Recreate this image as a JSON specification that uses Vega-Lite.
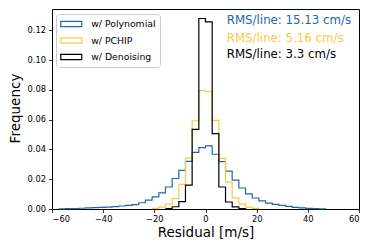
{
  "$schema": "https://vega.github.io/schema/vega-lite/v6.json",
  "width": 307,
  "height": 200,
  "autosize": "none",
  "padding": {"left": 52, "top": 9, "right": 15, "bottom": 40},
  "background": "white",
  "config": {
    "font": "DejaVu Sans",
    "view": {"stroke": "black", "strokeWidth": 1},
    "axis": {
      "domain": false,
      "grid": false,
      "tickColor": "black",
      "tickSize": 3.5,
      "tickWidth": 0.8,
      "labelFont": "DejaVu Sans",
      "labelFontSize": 8.3,
      "labelColor": "black",
      "labelOverlap": false,
      "titleFont": "DejaVu Sans",
      "titleFontSize": 13.5,
      "titleFontWeight": "normal",
      "titleColor": "black"
    },
    "legend": {
      "labelFont": "DejaVu Sans",
      "labelFontSize": 9.3,
      "labelColor": "black"
    }
  },
  "datasets": {
    "hist": [
      {"s": "w/ Polynomial", "x": -57.39, "f": 0.0001},
      {"s": "w/ Polynomial", "x": -54.78, "f": 0.0002},
      {"s": "w/ Polynomial", "x": -52.17, "f": 0.0003},
      {"s": "w/ Polynomial", "x": -49.57, "f": 0.0005},
      {"s": "w/ Polynomial", "x": -46.96, "f": 0.0007},
      {"s": "w/ Polynomial", "x": -44.35, "f": 0.0009},
      {"s": "w/ Polynomial", "x": -41.74, "f": 0.0011},
      {"s": "w/ Polynomial", "x": -39.13, "f": 0.0013},
      {"s": "w/ Polynomial", "x": -36.52, "f": 0.0016},
      {"s": "w/ Polynomial", "x": -33.91, "f": 0.0020},
      {"s": "w/ Polynomial", "x": -31.30, "f": 0.0024},
      {"s": "w/ Polynomial", "x": -28.70, "f": 0.0030},
      {"s": "w/ Polynomial", "x": -26.09, "f": 0.0042},
      {"s": "w/ Polynomial", "x": -23.48, "f": 0.0059},
      {"s": "w/ Polynomial", "x": -20.87, "f": 0.0081},
      {"s": "w/ Polynomial", "x": -18.26, "f": 0.0108},
      {"s": "w/ Polynomial", "x": -15.65, "f": 0.0148},
      {"s": "w/ Polynomial", "x": -13.04, "f": 0.0205},
      {"s": "w/ Polynomial", "x": -10.43, "f": 0.0260},
      {"s": "w/ Polynomial", "x": -7.83, "f": 0.0320},
      {"s": "w/ Polynomial", "x": -5.22, "f": 0.0380},
      {"s": "w/ Polynomial", "x": -2.61, "f": 0.0412},
      {"s": "w/ Polynomial", "x": 0, "f": 0.0424},
      {"s": "w/ Polynomial", "x": 2.61, "f": 0.0368},
      {"s": "w/ Polynomial", "x": 5.22, "f": 0.0318},
      {"s": "w/ Polynomial", "x": 7.83, "f": 0.0255},
      {"s": "w/ Polynomial", "x": 10.43, "f": 0.0194},
      {"s": "w/ Polynomial", "x": 13.04, "f": 0.0141},
      {"s": "w/ Polynomial", "x": 15.65, "f": 0.0102},
      {"s": "w/ Polynomial", "x": 18.26, "f": 0.0074},
      {"s": "w/ Polynomial", "x": 20.87, "f": 0.0054},
      {"s": "w/ Polynomial", "x": 23.48, "f": 0.0040},
      {"s": "w/ Polynomial", "x": 26.09, "f": 0.0031},
      {"s": "w/ Polynomial", "x": 28.70, "f": 0.0024},
      {"s": "w/ Polynomial", "x": 31.30, "f": 0.0017},
      {"s": "w/ Polynomial", "x": 33.91, "f": 0.0011},
      {"s": "w/ Polynomial", "x": 36.52, "f": 0.0007},
      {"s": "w/ Polynomial", "x": 39.13, "f": 0.0004},
      {"s": "w/ Polynomial", "x": 41.74, "f": 0.0002},
      {"s": "w/ Polynomial", "x": 44.35, "f": 0.0001},
      {"s": "w/ Polynomial", "x": 46.96, "f": 0},
      {"s": "w/ PCHIP", "x": -20.87, "f": 0.0004},
      {"s": "w/ PCHIP", "x": -18.26, "f": 0.0013},
      {"s": "w/ PCHIP", "x": -15.65, "f": 0.0033},
      {"s": "w/ PCHIP", "x": -13.04, "f": 0.0070},
      {"s": "w/ PCHIP", "x": -10.43, "f": 0.0166},
      {"s": "w/ PCHIP", "x": -7.83, "f": 0.0342},
      {"s": "w/ PCHIP", "x": -5.22, "f": 0.0593},
      {"s": "w/ PCHIP", "x": -2.61, "f": 0.0797},
      {"s": "w/ PCHIP", "x": 0, "f": 0.0788},
      {"s": "w/ PCHIP", "x": 2.61, "f": 0.0595},
      {"s": "w/ PCHIP", "x": 5.22, "f": 0.0340},
      {"s": "w/ PCHIP", "x": 7.83, "f": 0.0180},
      {"s": "w/ PCHIP", "x": 10.43, "f": 0.0075},
      {"s": "w/ PCHIP", "x": 13.04, "f": 0.0033},
      {"s": "w/ PCHIP", "x": 15.65, "f": 0.0013},
      {"s": "w/ PCHIP", "x": 18.26, "f": 0.0004},
      {"s": "w/ PCHIP", "x": 20.87, "f": 0},
      {"s": "w/ Denoising", "x": -15.65, "f": 0.0003},
      {"s": "w/ Denoising", "x": -13.04, "f": 0.0015},
      {"s": "w/ Denoising", "x": -10.43, "f": 0.0050},
      {"s": "w/ Denoising", "x": -7.83, "f": 0.0160},
      {"s": "w/ Denoising", "x": -5.22, "f": 0.0535},
      {"s": "w/ Denoising", "x": -2.61, "f": 0.1280},
      {"s": "w/ Denoising", "x": 0, "f": 0.1257},
      {"s": "w/ Denoising", "x": 2.61, "f": 0.0507},
      {"s": "w/ Denoising", "x": 5.22, "f": 0.0148},
      {"s": "w/ Denoising", "x": 7.83, "f": 0.0047},
      {"s": "w/ Denoising", "x": 10.43, "f": 0.0014},
      {"s": "w/ Denoising", "x": 13.04, "f": 0.0003},
      {"s": "w/ Denoising", "x": 15.65, "f": 0}
    ]
  },
  "layer": [
    {
      "data": {"name": "hist"},
      "mark": {"type": "line", "interpolate": "step-after", "strokeJoin": "miter"},
      "encoding": {
        "x": {
          "field": "x",
          "type": "quantitative",
          "scale": {"domain": [-60, 60], "nice": false, "zero": false},
          "axis": {
            "values": [-60, -40, -20, 0, 20, 40, 60],
            "tickCount": 20,
            "labelExpr": "replace(datum.label, '-', '−')",
            "labelOverlap": false,
            "labelPadding": 2,
            "title": "Residual [m/s]",
            "titleX": 153.5,
            "titleY": 23.5,
            "titleBaseline": "middle",
            "titleAlign": "center"
          }
        },
        "y": {
          "field": "f",
          "type": "quantitative",
          "scale": {"domain": [0, 0.1344], "nice": false},
          "axis": {
            "values": [0, 0.02, 0.04, 0.06, 0.08, 0.1, 0.12],
            "tickCount": 20,
            "format": ".2f",
            "labelOverlap": false,
            "labelFlush": false,
            "labelPadding": 3,
            "title": "Frequency",
            "titleX": -37,
            "titleY": 99,
            "titleAngle": -90,
            "titleBaseline": "middle",
            "titleAlign": "center"
          }
        },
        "color": {
          "field": "s",
          "type": "nominal",
          "scale": {
            "domain": ["w/ Polynomial", "w/ PCHIP", "w/ Denoising"],
            "range": ["#2166ac", "#f7ca45", "#000000"]
          },
          "legend": {
            "title": null,
            "orient": "none",
            "legendX": 4,
            "legendY": 5,
            "fillColor": "white",
            "strokeColor": "#cccccc",
            "cornerRadius": 3,
            "padding": 4,
            "symbolType": "M-2,-0.5H2V0.5H-2Z",
            "symbolSize": 110,
            "symbolFillColor": "transparent",
            "symbolOffset": 5.25,
            "labelOffset": 14,
            "rowPadding": 4.5
          }
        },
        "strokeWidth": {
          "field": "s",
          "type": "nominal",
          "scale": {
            "domain": ["w/ Polynomial", "w/ PCHIP", "w/ Denoising"],
            "range": [1.2, 1.2, 2.4]
          },
          "legend": {
            "title": null,
            "orient": "none",
            "legendX": 4,
            "legendY": 5,
            "fillColor": "white",
            "strokeColor": "#cccccc",
            "cornerRadius": 3,
            "padding": 4,
            "symbolType": "M-2,-0.5H2V0.5H-2Z",
            "symbolSize": 110,
            "symbolFillColor": "transparent",
            "symbolOffset": 5.25,
            "labelOffset": 14,
            "rowPadding": 4.5
          }
        }
      }
    },
    {
      "data": {"values": [{"label": "RMS/line: 15.13 cm/s"}]},
      "mark": {"type": "text", "align": "left", "baseline": "middle", "fontSize": 11.8, "font": "DejaVu Sans", "color": "#2166ac"},
      "encoding": {
        "x": {"datum": 8.3, "type": "quantitative"},
        "y": {"datum": 0.127, "type": "quantitative"},
        "text": {"field": "label"}
      }
    },
    {
      "data": {"values": [{"label": "RMS/line: 5.16 cm/s"}]},
      "mark": {"type": "text", "align": "left", "baseline": "middle", "fontSize": 11.8, "font": "DejaVu Sans", "color": "#f7ca45"},
      "encoding": {
        "x": {"datum": 8.3, "type": "quantitative"},
        "y": {"datum": 0.1147, "type": "quantitative"},
        "text": {"field": "label"}
      }
    },
    {
      "data": {"values": [{"label": "RMS/line: 3.3 cm/s"}]},
      "mark": {"type": "text", "align": "left", "baseline": "middle", "fontSize": 11.8, "font": "DejaVu Sans", "color": "#000000"},
      "encoding": {
        "x": {"datum": 8.3, "type": "quantitative"},
        "y": {"datum": 0.104, "type": "quantitative"},
        "text": {"field": "label"}
      }
    }
  ]
}
